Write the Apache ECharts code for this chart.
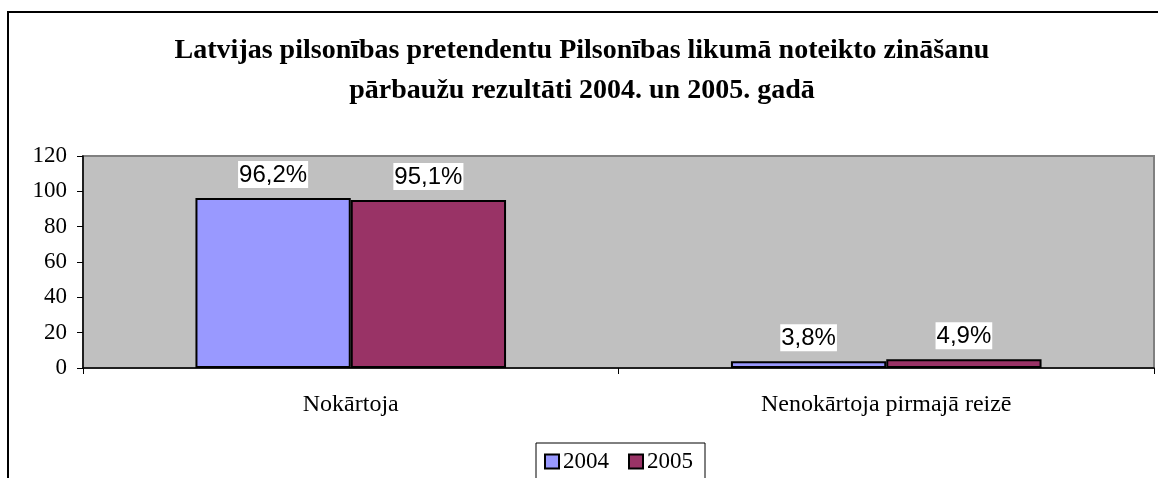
<!DOCTYPE html>
<html>
<head>
<meta charset="utf-8">
<script src="https://cdn.jsdelivr.net/npm/echarts@6/dist/echarts.min.js"></script>
<style>
  html, body { margin: 0; padding: 0; background: #fff; }
  #chart { width: 1158px; height: 478px; }
</style>
</head>
<body>
<div id="chart"></div>
<script>
// data
const categories = ['Nokārtoja', 'Nenokārtoja pirmajā reizē']
const years = ['2004', '2005']
const values2004 = [96.2, 3.8]
const values2005 = [95.1, 4.9]
const yTicks = { min: 0, max: 120, interval: 20 }

const serif = '"Liberation Serif", "Times New Roman", serif'
const sans = '"Liberation Sans", Arial, sans-serif'

const chart = echarts.init(document.getElementById('chart'))

function pct(p) {
  return String(p.value).replace('.', ',') + '%'
}

function barSeries(name, data, color) {
  return {
    name: name,
    type: 'bar',
    data: data,
    barGap: '0%',
    barCategoryGap: '42%',
    itemStyle: { color: color, borderColor: '#000', borderWidth: 2 },
    label: {
      show: true,
      position: 'top',
      distance: 10,
      formatter: pct,
      fontFamily: sans,
      fontSize: 24,
      color: '#000',
      backgroundColor: '#fff',
      padding: [2, 1, 1, 1]
    }
  }
}

const option = {
  animation: false,
  backgroundColor: '#fff',
  title: {
    text: 'Latvijas pilsonības pretendentu Pilsonības likumā noteikto zināšanu\npārbaužu rezultāti 2004. un 2005. gadā',
    left: 577,
    textAlign: 'center',
    top: 26,
    textStyle: {
      fontFamily: serif,
      fontSize: 28,
      fontWeight: 'bold',
      color: '#000',
      lineHeight: 40
    }
  },
  graphic: [{
    type: 'rect',
    shape: { x: 8, y: 12, width: 1300, height: 600 },
    style: { fill: null, stroke: '#000', lineWidth: 2 },
    z: -1
  }],
  legend: {
    data: years,
    icon: 'rect',
    left: 536,
    top: 443,
    itemWidth: 14,
    itemHeight: 14,
    itemGap: 19,
    padding: [7, 12, 20, 8],
    backgroundColor: '#fff',
    borderColor: '#000',
    borderWidth: 1,
    textStyle: { fontFamily: serif, fontSize: 23, color: '#000', padding: [0, 0, 0, -1] }
  },
  grid: {
    left: 83,
    right: 4,
    top: 156,
    bottom: 110,
    show: true,
    backgroundColor: '#c0c0c0',
    borderColor: '#808080',
    borderWidth: 2
  },
  xAxis: {
    type: 'category',
    data: categories,
    axisLine: { lineStyle: { color: '#000', width: 1.5 } },
    axisTick: { show: true, length: 6, lineStyle: { color: '#000' } },
    axisLabel: { fontFamily: serif, fontSize: 24, color: '#000', margin: 25 }
  },
  yAxis: {
    type: 'value',
    min: yTicks.min,
    max: yTicks.max,
    interval: yTicks.interval,
    splitLine: { show: false },
    axisLine: { show: true, lineStyle: { color: '#000', width: 1.5 } },
    axisTick: { show: true, length: 6, lineStyle: { color: '#000' } },
    axisLabel: { fontFamily: serif, fontSize: 23, color: '#000', margin: 16 }
  },
  series: [
    barSeries(years[0], values2004, '#9999ff'),
    barSeries(years[1], values2005, '#993366')
  ]
}

chart.setOption(option)
</script>
</body>
</html>
